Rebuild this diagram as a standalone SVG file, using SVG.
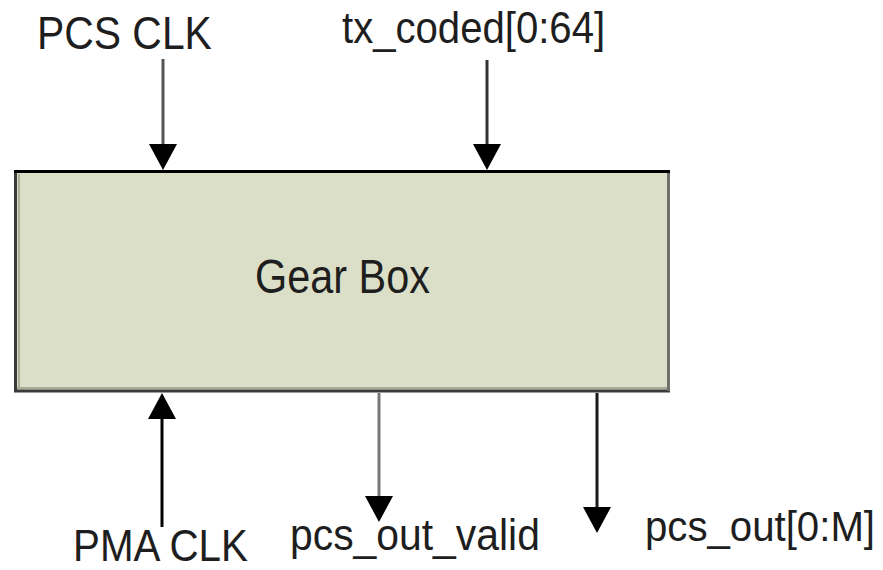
<svg xmlns="http://www.w3.org/2000/svg" width="883" height="570" viewBox="0 0 883 570">
  <style>
    .lbl { font-family: "Liberation Sans", Arial, sans-serif; fill: #1e1e1e; }
    .wire { stroke-width: 3; fill: none; }
  </style>
  <defs>
    <marker id="arr" viewBox="0 0 26 28" refX="20" refY="14" markerWidth="26" markerHeight="28" markerUnits="userSpaceOnUse" orient="auto">
      <path d="M0,0 L26,14 L0,28 z" fill="#000"/>
    </marker>
  </defs>
  <rect width="883" height="570" fill="#fff"/>

  <g id="gearbox">
    <rect x="15.5" y="171.5" width="653" height="219" fill="#dcdfc8"/>
    <line x1="19" y1="174" x2="19" y2="388" stroke="#a9ab98" stroke-width="2"/>
    <line x1="17" y1="388" x2="667" y2="388" stroke="#a9ab98" stroke-width="2"/>
    <line x1="15.5" y1="171.5" x2="15.5" y2="391" stroke="#3a3a3a" stroke-width="3"/>
    <line x1="14" y1="391" x2="670" y2="391" stroke="#3a3a3a" stroke-width="3"/>
    <line x1="668.5" y1="171.5" x2="668.5" y2="391" stroke="#707068" stroke-width="3"/>
    <line x1="14" y1="171.5" x2="670" y2="171.5" stroke="#000" stroke-width="3"/>
    <text class="lbl" transform="translate(255,293) scale(0.863,1)" font-size="48" textLength="202.8" lengthAdjust="spacingAndGlyphs">Gear Box</text>
  </g>

  <g id="pcs_clk">
    <text class="lbl" transform="translate(37,49) scale(0.87,1)" font-size="47" textLength="201" lengthAdjust="spacingAndGlyphs">PCS CLK</text>
  </g>
  <g id="tx_coded">
    <text class="lbl" transform="translate(342,43) scale(0.898,1)" font-size="44" textLength="293" lengthAdjust="spacingAndGlyphs">tx_coded[0:64]</text>
  </g>
  <g id="pma_clk">
    <text class="lbl" transform="translate(73,561) scale(0.906,1)" font-size="44" textLength="193" lengthAdjust="spacingAndGlyphs">PMA CLK</text>
  </g>
  <g id="pcs_out_valid">
    <text class="lbl" transform="translate(290,550) scale(0.929,1)" font-size="44" textLength="269" lengthAdjust="spacingAndGlyphs">pcs_out_valid</text>
  </g>
  <g id="pcs_out">
    <text class="lbl" transform="translate(645,541) scale(0.935,1)" font-size="43" textLength="246" lengthAdjust="spacingAndGlyphs">pcs_out[0:M]</text>
  </g>

  <g id="connectors">
    <line class="wire" x1="163" y1="59" x2="163" y2="164" stroke="#555" marker-end="url(#arr)"/>
    <line class="wire" x1="487" y1="60" x2="487" y2="164" stroke="#333" marker-end="url(#arr)"/>
    <line class="wire" x1="162" y1="527" x2="162" y2="399" stroke="#000" marker-end="url(#arr)"/>
    <line class="wire" x1="379" y1="393" x2="379" y2="516" stroke="#777" marker-end="url(#arr)"/>
    <line class="wire" x1="597" y1="393" x2="597" y2="527" stroke="#1a1a1a" marker-end="url(#arr)"/>
  </g>
</svg>
